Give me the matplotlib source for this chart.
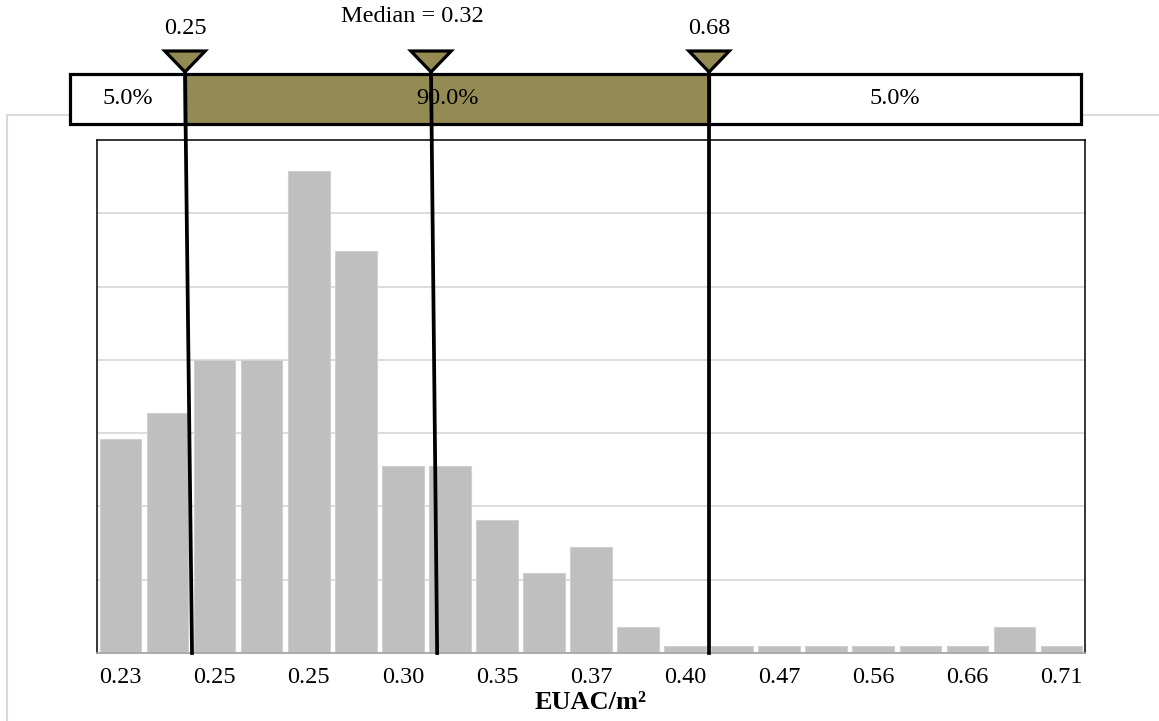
"""Histograma EUAC/m2 con barra de percentiles (5% / 90% / 5%) arriba."""
import matplotlib

matplotlib.use("Agg")
import matplotlib.pyplot as plt
import matplotlib.transforms as mtransforms
from matplotlib.lines import Line2D
from matplotlib.patches import Polygon, Rectangle

plt.rcParams["font.family"] = ["Liberation Serif", "DejaVu Serif"]

# frecuencia relativa por bin (unidades = una linea de grilla)
freq = [2.92, 3.28, 4.00, 4.00, 6.58, 5.48, 2.55, 2.55, 1.81, 1.09, 1.45,
        0.35, 0.09, 0.09, 0.09, 0.09, 0.09, 0.09, 0.09, 0.36, 0.09]
tick_labels = ["0.23", "0.25", "0.25", "0.30", "0.35", "0.37",
               "0.40", "0.47", "0.56", "0.66", "0.71"]
xlabel = "EUAC/m²"

# barra de percentiles (posiciones en la escala de bins del histograma)
pct_values = ["0.25", "Median = 0.32", "0.68"]
pct_top_pos = [1.37, 6.60, 12.51]      # punta del triangulo
pct_bot_pos = [1.52, 6.73, 12.51]      # donde la linea toca el eje
seg_labels = ["5.0%", "90.0%", "5.0%"]
bar_left, bar_right = -1.07, 20.41

OLIVE = "#948A54"
BAR = "#BFBFBF"
GRID = "#D9D9D9"

W, H = 1159, 721
fig = plt.figure(figsize=(W / 100, H / 100), dpi=100)


def fy(py):
    return 1 - py / H


ax = fig.add_axes([97 / W, fy(653), 988 / W, (653 - 140) / H])
x = list(range(len(freq)))
ax.bar(x, freq, width=0.885, color=BAR, edgecolor="#D0D0D0", linewidth=0.8, zorder=2)
ax.set_xlim(-0.5, len(freq) - 0.5)
ax.set_ylim(0, 7)
ax.set_yticks(range(1, 7))
ax.yaxis.grid(True, color=GRID, linewidth=1.3, zorder=0)
ax.set_axisbelow(True)
ax.tick_params(axis="y", left=False, labelleft=False)
ax.set_xticks(x[::2])
ax.set_xticklabels(tick_labels, fontsize=17.5)
ax.tick_params(axis="x", length=0, pad=10)
for side in ("left", "right", "top"):
    ax.spines[side].set_color("black")
    ax.spines[side].set_linewidth(1.1)
ax.spines["bottom"].set_color("#A6A6A6")
ax.spines["bottom"].set_linewidth(1.3)
ax.set_xlabel(xlabel, fontsize=19, fontweight="bold", labelpad=2)

# marco gris exterior (solo borde izquierdo y superior visibles)
fig.add_artist(Line2D([7 / W, 7 / W, 1.0], [0.0, fy(115), fy(115)],
                      color=GRID, linewidth=1.5, zorder=-1))

tr = mtransforms.blended_transform_factory(ax.transData, fig.transFigure)
y_top, y_bot = fy(74), fy(124)
edges = [bar_left, pct_top_pos[0], pct_top_pos[2], bar_right]
fills = ["white", OLIVE, "white"]
for i in range(3):
    ax.add_patch(Rectangle((edges[i], y_bot), edges[i + 1] - edges[i], y_top - y_bot,
                           transform=tr, facecolor=fills[i], edgecolor="black",
                           linewidth=2.3, clip_on=False, zorder=5))
    ax.text((edges[i] + edges[i + 1]) / 2, (y_top + y_bot) / 2, seg_labels[i],
            transform=tr, ha="center", va="center", fontsize=17.5,
            clip_on=False, zorder=7)

half_w = 0.43
for i, (pt, pb) in enumerate(zip(pct_top_pos, pct_bot_pos)):
    ax.add_line(Line2D([pt, pb], [fy(72), fy(653)], transform=tr, color="black",
                       linewidth=2.7, clip_on=False, zorder=8))
    ax.add_patch(Polygon([(pt - half_w, fy(51)), (pt + half_w, fy(51)), (pt, fy(72))],
                         closed=True, transform=tr, facecolor=OLIVE, edgecolor="black",
                         linewidth=2.3, joinstyle="miter", clip_on=False, zorder=9))
    dx = -0.4 if i == 1 else 0.0
    ly = fy(17) if i == 1 else fy(29)
    ax.text(pt + dx, ly, pct_values[i], transform=tr, ha="center", va="center",
            fontsize=17.5, clip_on=False, zorder=9)

fig.savefig("out.png", dpi=100)
